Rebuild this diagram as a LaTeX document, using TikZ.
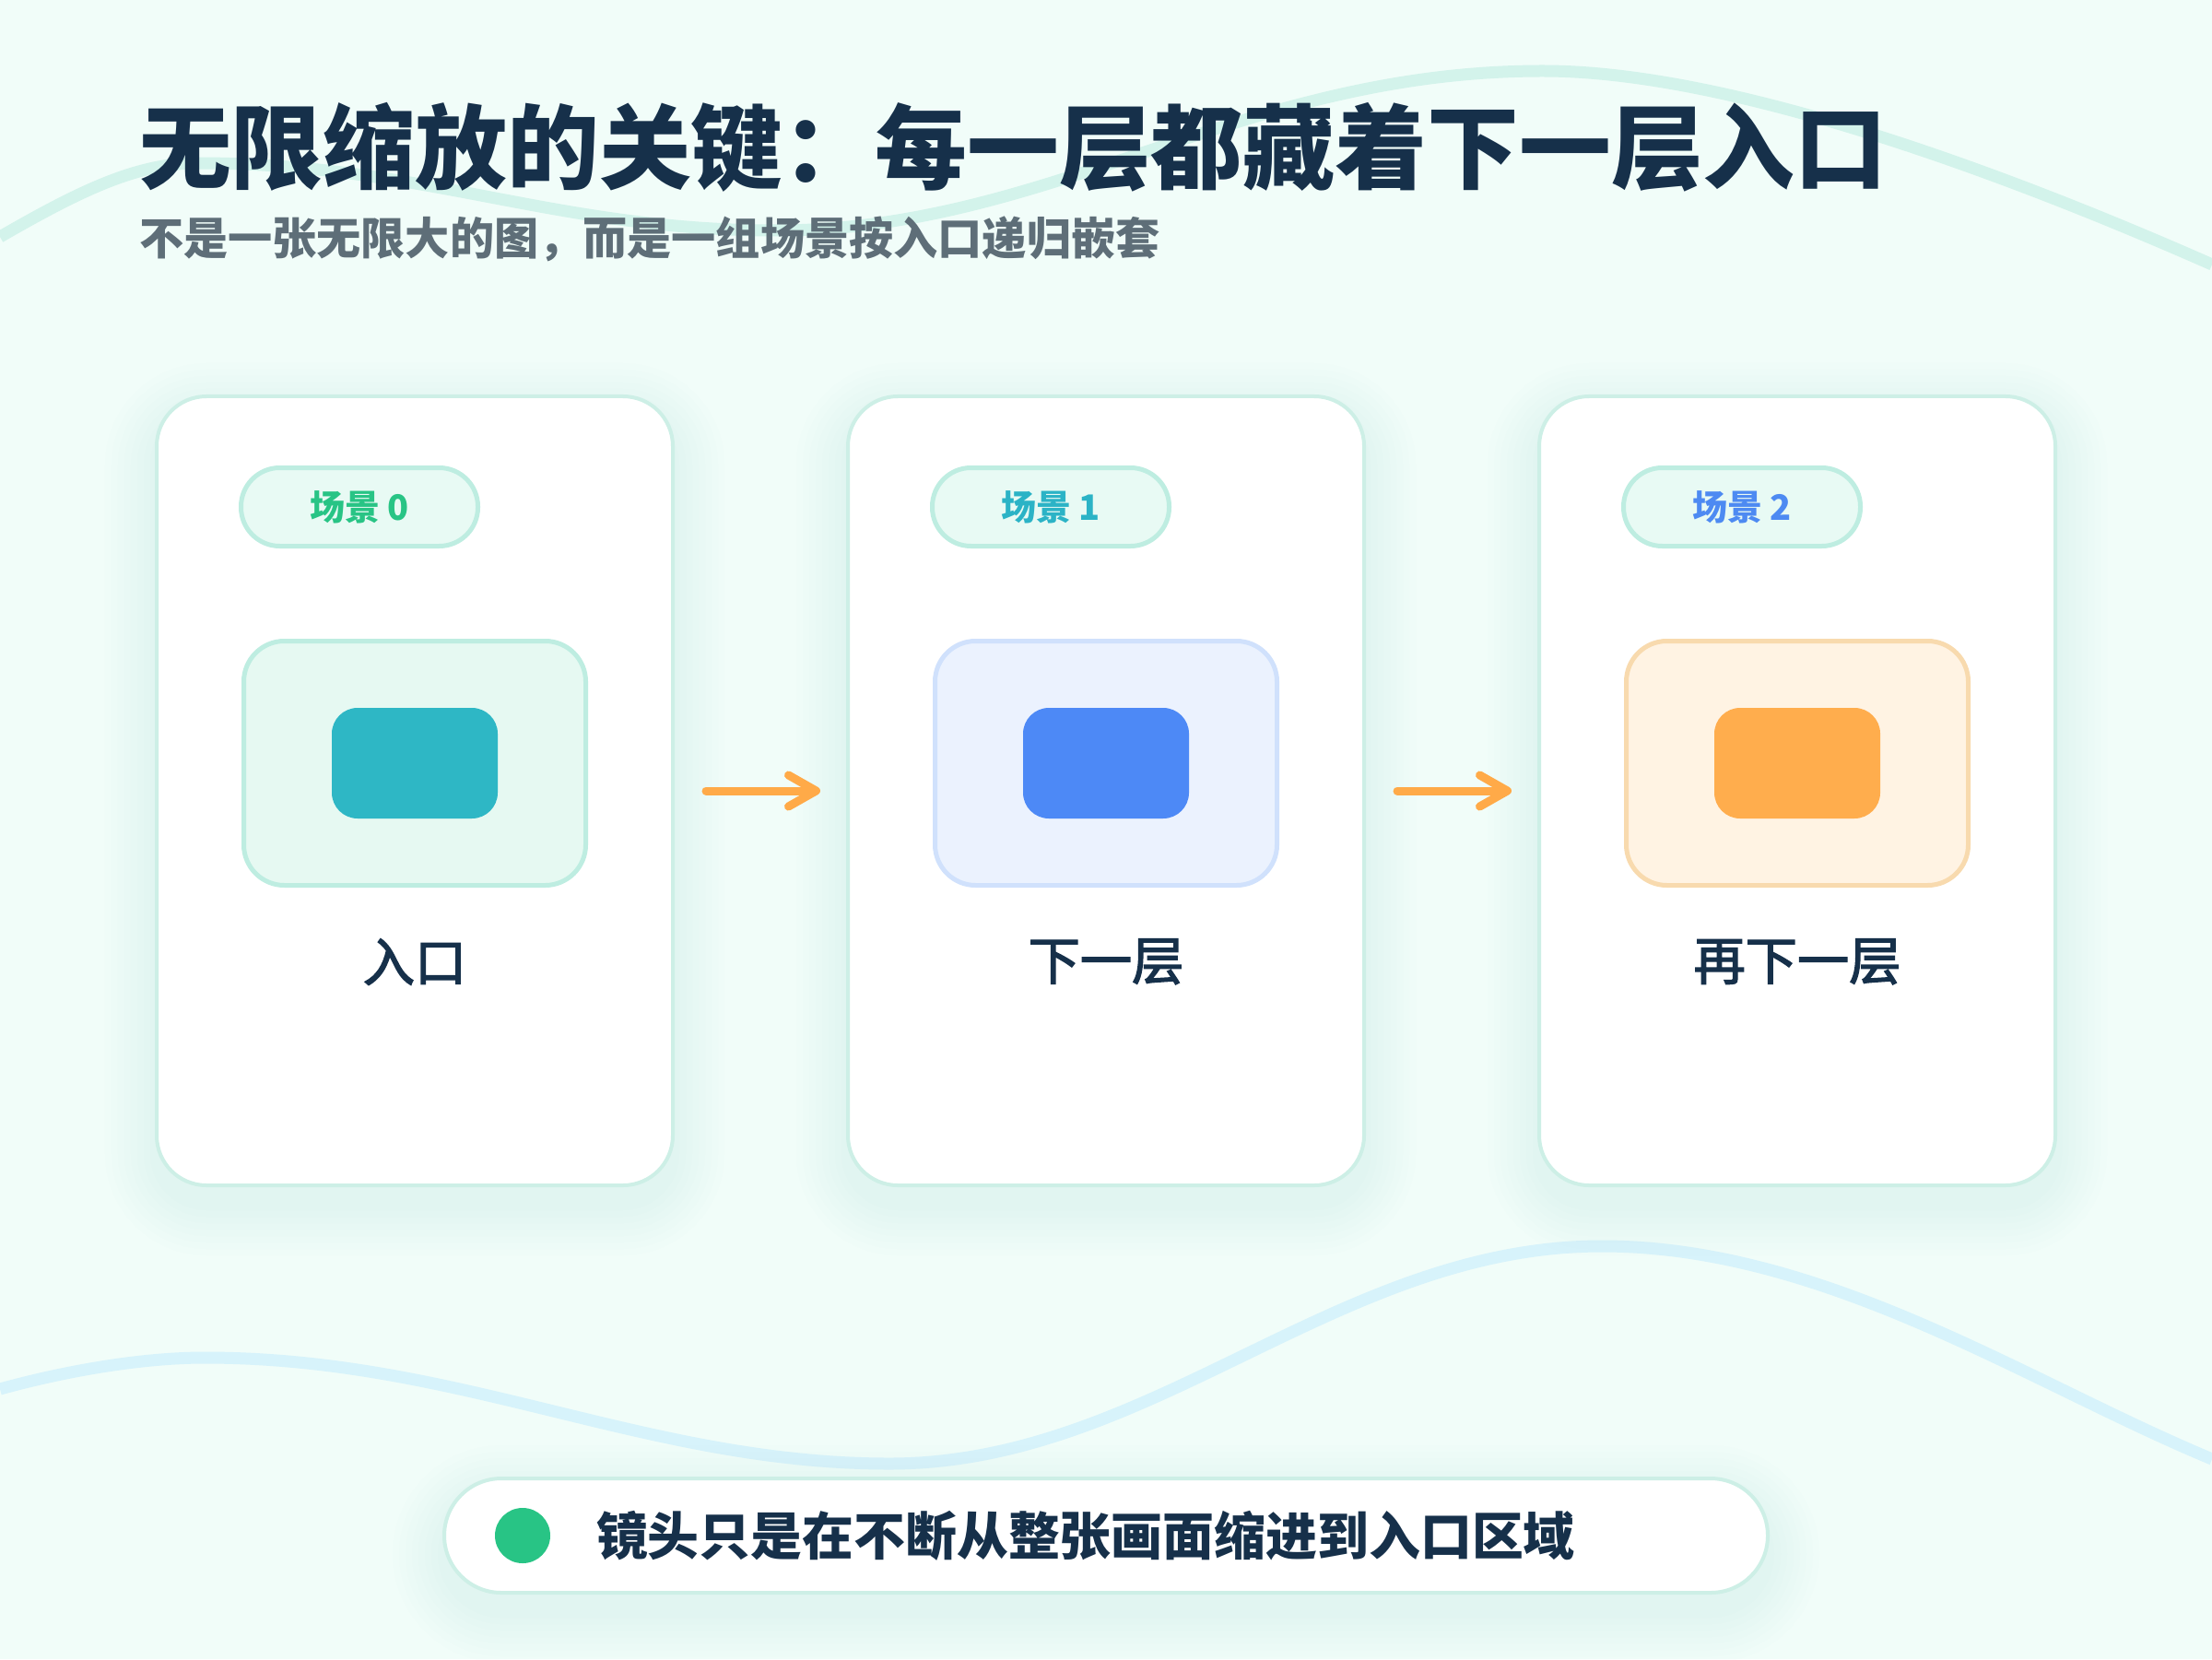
\documentclass[tikz,border=0pt]{standalone}
\usepackage{fontspec}
\setmainfont{Noto Sans CJK SC}
\newfontfamily\cjkmedium{Noto Sans CJK SC}[FakeBold=2.5]
\usepackage{tikz}
\usetikzlibrary{positioning,arrows.meta}
\usepackage{xcolor}
\definecolor{bgmint}{HTML}{F1FDF9}
\definecolor{wavemint}{HTML}{D3F3EB}
\definecolor{waveblue}{HTML}{D7F3FB}
\definecolor{navy}{HTML}{16304A}
\definecolor{slate}{HTML}{5E6E78}
\definecolor{cardline}{HTML}{CDEFE6}
\definecolor{tagfill}{HTML}{E8FAF4}
\definecolor{tagline}{HTML}{BEEDE1}
\definecolor{shadowc}{HTML}{9FDCCB}
\definecolor{mintgreen}{HTML}{28C485}
\definecolor{tealtxt}{HTML}{2BB3C6}
\definecolor{bluetxt}{HTML}{4D8AF2}
\definecolor{tealblock}{HTML}{2EB7C5}
\definecolor{blueblock}{HTML}{4D89F6}
\definecolor{orangeblock}{HTML}{FFAD4D}
\definecolor{arroworange}{HTML}{FFAA48}
\definecolor{tealpanel}{HTML}{E6F9F2}
\definecolor{bluepanel}{HTML}{EBF2FE}
\definecolor{bluepline}{HTML}{D0E1FC}
\definecolor{orangepanel}{HTML}{FFF3E3}
\definecolor{orangepline}{HTML}{F8DAAE}
\pgfdeclarelayer{bg}
\pgfsetlayers{bg,main}

\begin{document}
\begin{tikzpicture}[node distance=1.9cm,
  every node/.style={inner sep=0,outer sep=0},
  headline/.style={anchor=west,text=navy,font=\fontsize{28.4}{32}\selectfont\bfseries},
  subline/.style={anchor=west,text=slate,font=\fontsize{13.7}{16}\selectfont\bfseries},
  card/.style={draw=cardline,line width=0.04cm,fill=white,rounded corners=0.54cm,minimum width=5.6cm,minimum height=8.56cm},
  tag/.style={draw=tagline,fill=tagfill,line width=0.05cm,rounded corners=0.42cm,minimum width=2.57cm,minimum height=0.85cm,font=\fontsize{10.8}{12}\selectfont\bfseries},
  panel/.style={line width=0.05cm,rounded corners=0.44cm,minimum width=3.71cm,minimum height=2.65cm},
  block/.style={rounded corners=0.28cm,minimum width=1.8cm,minimum height=1.2cm},
  layer/.style={text=navy,font=\fontsize{16}{18}\selectfont\cjkmedium},
  flow/.style={arroworange,line width=0.09cm,line cap=round,shorten <=0.36cm,shorten >=0.3cm,-{Straight Barb[length=0.3cm,width=0.34cm,round]}},
  wave/.style={line width=0.13cm}]
\useasboundingbox (0,0) rectangle (24,18);
\begin{pgfonlayer}{bg}
\fill[bgmint] (0,0) rectangle (24,18);
\draw[wave,wavemint] (0,15.43) .. controls (0.9,15.95) and (1.5,16.23) .. (2.14,16.23)
  .. controls (4.6,16.23) and (6.0,15.5) .. (8.42,15.5)
  .. controls (11.42,15.5) and (13.44,17.23) .. (16.74,17.23)
  .. controls (18.8,17.23) and (21.8,16.1) .. (24,15.13);
\draw[wave,waveblue] (0,2.93) .. controls (0.8,3.15) and (1.6,3.27) .. (2.22,3.27)
  .. controls (5.0,3.27) and (7.0,2.12) .. (9.65,2.12)
  .. controls (12.5,2.12) and (14.5,4.48) .. (17.38,4.48)
  .. controls (19.8,4.48) and (22.0,3.0) .. (24,2.17);
\end{pgfonlayer}

\node[headline] (title) at (1.51,16.4) {无限缩放的关键：每一层都藏着下一层入口};
\node[subline] (sub) at (1.51,15.41) {不是一张无限大的图，而是一组场景按入口递归嵌套};

\node[card] (c0) at (4.5,9.42) {};
\node[card] (c1) [right=of c0] {};
\node[card] (c2) [right=of c1] {};

\node[tag,text=mintgreen] (t0) [below right=0.775cm and 0.915cm of c0.north west] {场景 0};
\node[tag,text=tealtxt] (t1) [below right=0.775cm and 0.915cm of c1.north west] {场景 1};
\node[tag,text=bluetxt] (t2) [below right=0.775cm and 0.915cm of c2.north west] {场景 2};

\node[panel,draw=tagline,fill=tealpanel] (p0) [below=2.655cm of c0.north] {};
\node[panel,draw=bluepline,fill=bluepanel] (p1) [below=2.655cm of c1.north] {};
\node[panel,draw=orangepline,fill=orangepanel] (p2) [below=2.655cm of c2.north] {};
\node[block,fill=tealblock] (b0) at (p0) {};
\node[block,fill=blueblock] (b1) at (p1) {};
\node[block,fill=orangeblock] (b2) at (p2) {};

\node[layer] (l0) [below=0.58cm of p0] {入口};
\node[layer] (l1) [below=0.58cm of p1] {下一层};
\node[layer] (l2) [below=0.58cm of p2] {再下一层};

\draw[flow] (c0) -- (c1);
\draw[flow] (c1) -- (c2);

\node[draw=cardline,line width=0.04cm,fill=white,rounded corners=0.62cm,minimum width=14.36cm,minimum height=1.24cm] (note) at (12,1.34) {};
\node[circle,fill=mintgreen,minimum size=0.6cm] (dot) [right=0.55cm of note.west] {};
\node[text=navy,font=\fontsize{15.9}{18}\selectfont\bfseries] (notetext) [right=0.5cm of dot] {镜头只是在不断从整张画面缩进到入口区域};

\begin{pgfonlayer}{bg}
\foreach \n/\rr in {c0/0.54,c1/0.54,c2/0.54,note/0.62}
  \foreach \i in {1,...,8}{
    \pgfmathsetmacro\ee{\i*0.07}
    \pgfmathsetmacro\rc{\rr+\ee}
    \fill[shadowc,opacity=0.015,rounded corners=\rc cm]
      ([shift={(-\ee,-\ee-0.2)}]\n.south west) rectangle ([shift={(\ee,\ee-0.2)}]\n.north east);
  }
\end{pgfonlayer}
\end{tikzpicture}
\end{document}
